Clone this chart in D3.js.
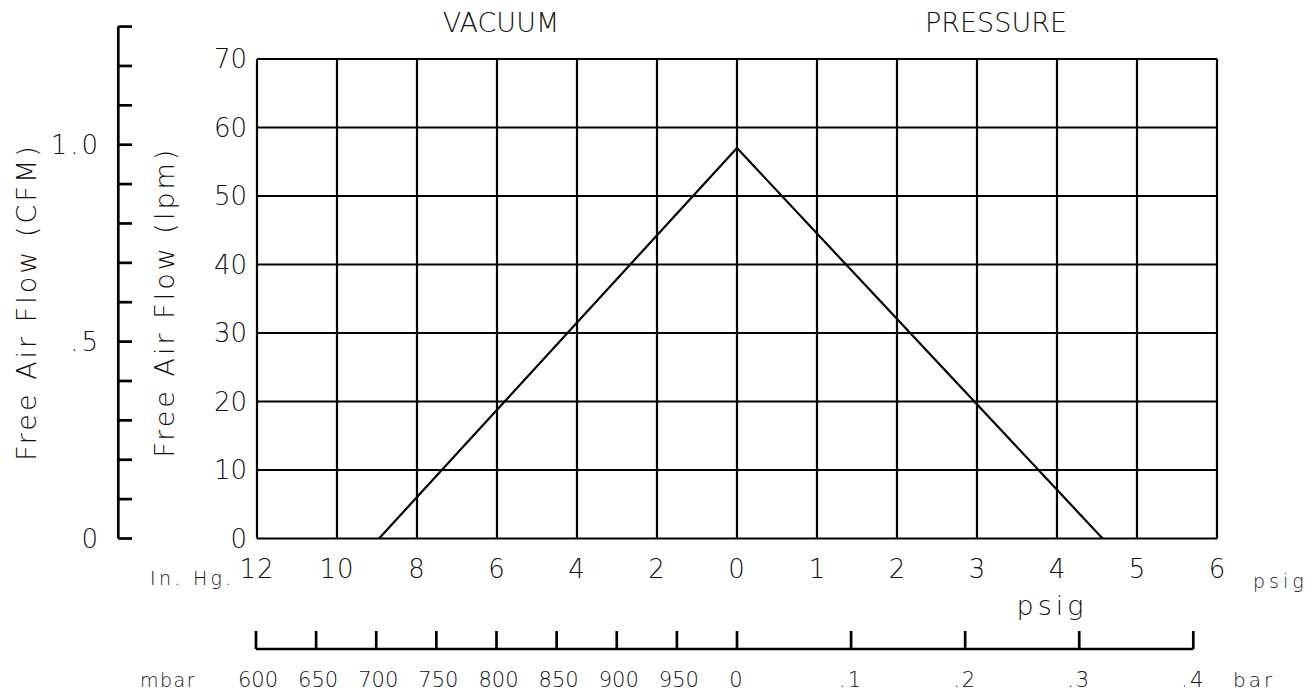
<!DOCTYPE html>
<html>
<head>
<meta charset="utf-8">
<script src="https://cdn.jsdelivr.net/npm/d3@7"></script>
<style>
  body { margin: 0; background: #fff; }
  svg text { font-family: "DejaVu Sans ExtraLight", "DejaVu Sans", sans-serif; font-weight: 200; fill: #111; }
</style>
</head>
<body>
<div id="chart"></div>
<script>
// flow curve
const vacuumCurve = [ { inHg: 8.95, lpm: 0 }, { inHg: 0, lpm: 57 } ];
const pressureCurve = [ { psig: 0, lpm: 57 }, { psig: 4.57, lpm: 0 } ];

// axis ticks
const lpmTicks = [0, 10, 20, 30, 40, 50, 60, 70];
const vacuumTicks = [12, 10, 8, 6, 4, 2, 0];
const psigTicks = [0, 1, 2, 3, 4, 5, 6];
const cfmTicks = [0, .1, .2, .3, .4, .5, .6, .7, .8, .9, 1.0, 1.1, 1.2, 1.3];
const cfmLabels = [0, .5, 1.0];
const cfmLabelText = ["0", ".5", "1.0"];
const mbarTicks = [600, 650, 700, 750, 800, 850, 900, 950];
const barTicks = [0, .1, .2, .3, .4];
const barLabelText = ["0", ".1", ".2", ".3", ".4"];

const width = 1315, height = 694;
const grid = { left: 257, right: 1217, top: 59, bottom: 538.5, mid: 737 };

const svg = d3.select("#chart").append("svg")
  .attr("width", width)
  .attr("height", height)
  .attr("viewBox", [0, 0, width, height]);

const xVac = d3.scaleLinear().domain([12, 0]).range([grid.left, grid.mid]);
const xPsi = d3.scaleLinear().domain([0, 6]).range([grid.mid, grid.right]);
const y = d3.scaleLinear().domain([0, 70]).range([grid.bottom, grid.top]);
const yCfm = d3.scaleLinear().domain([0, 1]).range([grid.bottom, 144.7]);
const xMbar = d3.scaleLinear().domain([600, 1000]).range([256, grid.mid]);
const xBar = d3.scaleLinear().domain([0, 0.4]).range([grid.mid, 1193.3]);

// grid lines
const g = svg.append("g").attr("stroke", "#000").attr("stroke-width", 2.2);
g.selectAll(".hl").data(lpmTicks).join("line")
  .attr("x1", grid.left).attr("x2", grid.right)
  .attr("y1", d => y(d)).attr("y2", d => y(d));
g.selectAll(".vv").data(vacuumTicks).join("line")
  .attr("x1", d => xVac(d)).attr("x2", d => xVac(d))
  .attr("y1", grid.top).attr("y2", grid.bottom);
g.selectAll(".vp").data(psigTicks.slice(1)).join("line")
  .attr("x1", d => xPsi(d)).attr("x2", d => xPsi(d))
  .attr("y1", grid.top).attr("y2", grid.bottom);

// curve
svg.append("path").datum(vacuumCurve)
  .attr("fill", "none").attr("stroke", "#000").attr("stroke-width", 2.2)
  .attr("d", d3.line().x(d => xVac(d.inHg)).y(d => y(d.lpm)));
svg.append("path").datum(pressureCurve)
  .attr("fill", "none").attr("stroke", "#000").attr("stroke-width", 2.2)
  .attr("d", d3.line().x(d => xPsi(d.psig)).y(d => y(d.lpm)));

// lpm labels
svg.append("g").selectAll("text").data(lpmTicks).join("text")
  .attr("x", 247).attr("y", d => y(d)).attr("dy", "0.36em")
  .attr("text-anchor", "end").attr("font-size", 26)
  .text(d => d);

// bottom tick labels
svg.append("g").selectAll("text").data(vacuumTicks).join("text")
  .attr("x", d => xVac(d)).attr("y", 578)
  .attr("text-anchor", "middle").attr("font-size", 26).attr("letter-spacing", 1)
  .text(d => d);
svg.append("g").selectAll("text").data(psigTicks.slice(1)).join("text")
  .attr("x", d => xPsi(d)).attr("y", 578)
  .attr("text-anchor", "middle").attr("font-size", 26)
  .text(d => d);

svg.append("text").attr("x", 150).attr("y", 585)
  .attr("font-size", 19).attr("letter-spacing", 3.3).text("In. Hg.");
svg.append("text").attr("x", 1253).attr("y", 588)
  .attr("font-size", 19).attr("letter-spacing", 4).text("psig");
svg.append("text").attr("x", 1052).attr("y", 615)
  .attr("text-anchor", "middle").attr("font-size", 27).attr("letter-spacing", 4).text("psig");

// headings
svg.append("text").attr("x", 501).attr("y", 32)
  .attr("text-anchor", "middle").attr("font-size", 27).text("VACUUM");
svg.append("text").attr("x", 996).attr("y", 32)
  .attr("text-anchor", "middle").attr("font-size", 27).text("PRESSURE");

// CFM axis
const cfm = svg.append("g").attr("stroke", "#000").attr("stroke-width", 2.7);
cfm.append("line")
  .attr("x1", 118.3).attr("x2", 118.3)
  .attr("y1", yCfm(1.3)).attr("y2", yCfm(0));
cfm.selectAll(".t").data(cfmTicks).join("line")
  .attr("x1", 118.3).attr("x2", 132)
  .attr("y1", d => yCfm(d)).attr("y2", d => yCfm(d));
svg.append("g").selectAll("text").data(cfmLabels).join("text")
  .attr("x", 101).attr("y", d => yCfm(d)).attr("dy", "0.36em")
  .attr("text-anchor", "end").attr("font-size", 26).attr("letter-spacing", 3)
  .text((d, i) => cfmLabelText[i]);

// axis titles
svg.append("text")
  .attr("transform", "translate(36,302) rotate(-90)")
  .attr("text-anchor", "middle").attr("font-size", 27).attr("letter-spacing", 3)
  .text("Free Air Flow (CFM)");
svg.append("text")
  .attr("transform", "translate(174,302) rotate(-90)")
  .attr("text-anchor", "middle").attr("font-size", 27).attr("letter-spacing", 3)
  .text("Free Air Flow (lpm)");

// mbar / bar axis
const axisY = 649;
const ba = svg.append("g").attr("stroke", "#000").attr("stroke-width", 2.7);
ba.append("line").attr("x1", xMbar(600)).attr("x2", xBar(0.4))
  .attr("y1", axisY).attr("y2", axisY);
ba.selectAll(".m").data(mbarTicks).join("line")
  .attr("x1", d => xMbar(d)).attr("x2", d => xMbar(d))
  .attr("y1", axisY - 18).attr("y2", axisY);
ba.selectAll(".b").data(barTicks).join("line")
  .attr("x1", d => xBar(d)).attr("x2", d => xBar(d))
  .attr("y1", axisY - 18).attr("y2", axisY);

svg.append("g").selectAll("text").data(mbarTicks).join("text")
  .attr("x", d => xMbar(d) + 2).attr("y", 687)
  .attr("text-anchor", "middle").attr("font-size", 21)
  .text(d => d);
svg.append("g").selectAll("text").data(barTicks).join("text")
  .attr("x", d => xBar(d)).attr("y", 687)
  .attr("text-anchor", "middle").attr("font-size", 21).attr("letter-spacing", 2)
  .text((d, i) => barLabelText[i]);
svg.append("text").attr("x", 140).attr("y", 687)
  .attr("font-size", 19).attr("letter-spacing", 1.5).text("mbar");
svg.append("text").attr("x", 1233).attr("y", 687)
  .attr("font-size", 20).attr("letter-spacing", 3).text("bar");
</script>
</body>
</html>
